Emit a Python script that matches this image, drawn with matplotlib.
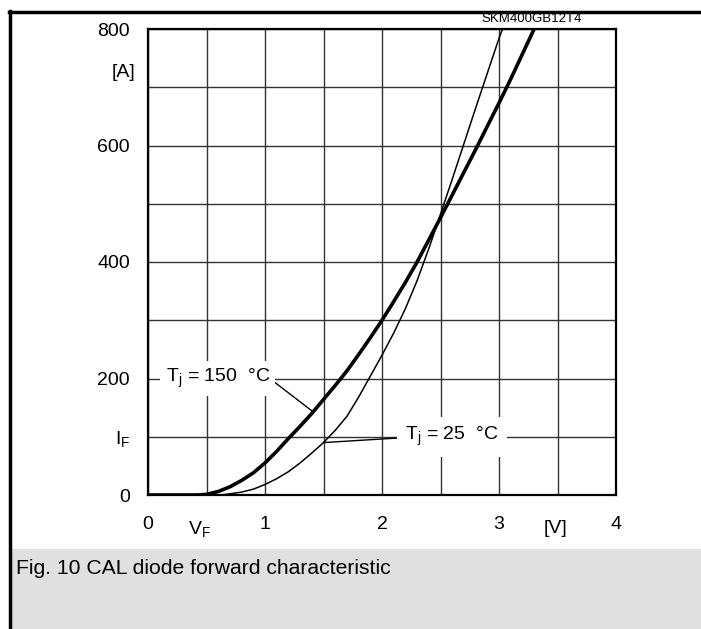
import matplotlib.pyplot as plt
from matplotlib.lines import Line2D
from matplotlib.patches import Rectangle

plt.rcParams['font.family'] = ['Liberation Sans', 'DejaVu Sans']
plt.rcParams['mathtext.default'] = 'regular'

# forward characteristic
vf_150 = [0.0, 0.42, 0.5, 0.6, 0.7, 0.8, 0.9, 1.0, 1.1, 1.2, 1.3, 1.4, 1.5, 1.6, 1.7, 1.8,
          1.9, 2.0, 2.1, 2.2, 2.3, 2.4, 2.5, 2.6, 2.7, 2.8, 2.9, 3.0, 3.1, 3.2, 3.3]
if_150 = [0, 0, 1, 6, 14, 25, 38, 55, 75, 97, 118, 140, 164, 188, 213, 241,
          270, 300, 332, 365, 400, 438, 476, 515, 554, 593, 633, 673, 714, 757, 800]

vf_25 = [0.0, 0.62, 0.7, 0.8, 0.9, 1.0, 1.1, 1.2, 1.3, 1.4, 1.5, 1.6, 1.7, 1.8, 1.9,
         2.0, 2.1, 2.2, 2.3, 2.4, 2.5, 2.6, 2.7, 2.8, 2.9, 3.0, 3.03]
if_25 = [0, 0, 2, 5, 10, 18, 28, 40, 55, 72, 90, 111, 135, 168, 204,
         240, 278, 320, 368, 423, 482, 542, 603, 664, 724, 784, 800]

x_ticks = [0, 0.5, 1, 1.5, 2, 2.5, 3, 3.5, 4]
x_labels = ['0', '', '1', '', '2', '', '3', '', '4']
y_ticks = [0, 100, 200, 300, 400, 500, 600, 700, 800]
y_labels = ['0', '$I_F$', '200', '', '400', '', '600', '', '800']

fs = 14

fig = plt.figure(figsize=(7.01, 6.29), dpi=100)
ax = fig.add_axes([148 / 701, 134 / 629, 468 / 701, 466 / 629])

ax.plot(vf_25, if_25, color='black', linewidth=1.1, zorder=3)
ax.plot(vf_150, if_150, color='black', linewidth=2.6, zorder=3, solid_capstyle='butt')

ax.set_xlim(0, 4)
ax.set_ylim(0, 800)
ax.set_xticks(x_ticks)
ax.set_xticklabels(x_labels)
ax.set_yticks(y_ticks)
ax.set_yticklabels(y_labels)
ax.tick_params(length=0, labelsize=fs, pad=15)
ax.tick_params(axis='y', pad=13)
ax.grid(True, color='#333333', linewidth=1.0)
ax.set_axisbelow(True)
for s in ax.spines.values():
    s.set_linewidth(1.6)

# curve labels with leaders
ax.plot([1.06, 1.41], [197, 143], color='black', linewidth=1.0, zorder=3)
ax.text(0.15, 200, '$T_j$ = 150  °C', fontsize=fs, ha='left', va='center', zorder=4,
        bbox=dict(facecolor='white', edgecolor='none', pad=4))
ax.plot([1.50, 2.15], [90, 98], color='black', linewidth=1.0, zorder=3)
ax.text(2.2, 100, '$T_j$ = 25  °C', fontsize=fs, ha='left', va='center', zorder=4,
        bbox=dict(facecolor='white', edgecolor='none', pad=6))

# unit labels
ax.text(-0.11, 726, '[A]', fontsize=fs, ha='right', va='center')
ax.text(0.44, -58, '$V_F$', fontsize=fs, ha='center', va='center')
ax.text(3.48, -58, '[V]', fontsize=fs, ha='center', va='center')

fig.text(532 / 701, 1 - 19 / 629, 'SKM400GB12T4', fontsize=9.5, ha='center', va='center')

# caption area and frame
fig.add_artist(Rectangle((10 / 701, 0), 1, 80 / 629, transform=fig.transFigure,
                         facecolor='#e0e0e0', edgecolor='none'))
fig.text(16 / 701, 1 - 568 / 629, 'Fig. 10 CAL diode forward characteristic',
         fontsize=15.2, ha='left', va='center')
fig.add_artist(Line2D([9.5 / 701, 9.5 / 701], [0, 1 - 11 / 629], color='black', linewidth=2.5,
                      transform=fig.transFigure))
fig.add_artist(Line2D([8.5 / 701, 1], [1 - 11.5 / 629, 1 - 11.5 / 629], color='black',
                      linewidth=2.5, transform=fig.transFigure))

fig.savefig('out.png', dpi=100)
